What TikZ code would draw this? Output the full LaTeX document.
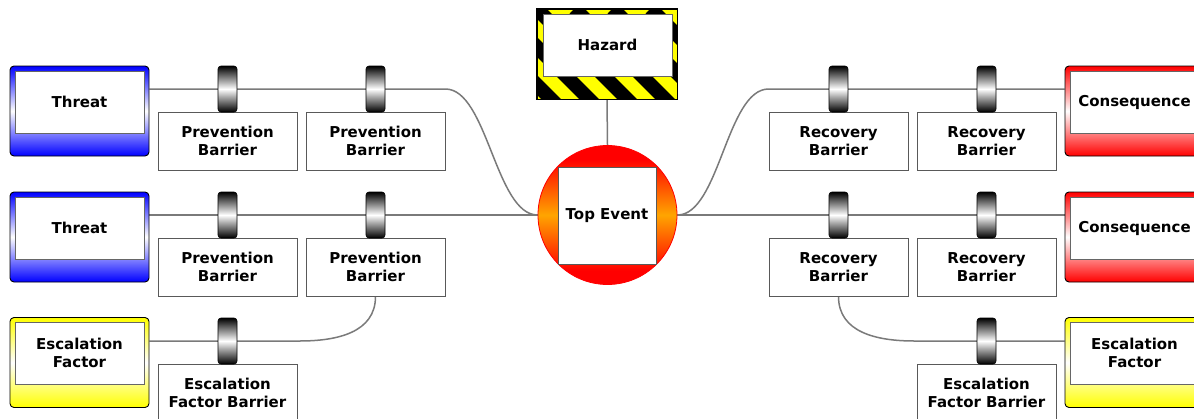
\documentclass[tikz,border=0pt]{standalone}
\usepackage{fontspec}
\setmainfont{DejaVu Sans}
\usetikzlibrary{calc}
\pgfdeclarelayer{bg}
\pgfsetlayers{bg,main}
\definecolor{thblue}{HTML}{0000FF}
\definecolor{cqred}{HTML}{FF0000}
\definecolor{escyel}{HTML}{FFFF00}
\definecolor{tevorange}{HTML}{FFA500}
\pgfdeclareverticalshading{topev}{100bp}{color(0bp)=(cqred); color(30bp)=(cqred); color(50bp)=(tevorange); color(70bp)=(cqred); color(100bp)=(cqred)}
\newcommand\boxfont{\fontsize{15}{18}\selectfont\bfseries}
\tikzset{
  conn/.style={draw=black!52, line width=1.5pt},
  outerbox/.style={draw=black, line width=0.9pt, rounded corners=4pt, minimum width=139pt, minimum height=90pt, inner sep=0pt},
  threatbox/.style={outerbox, top color=thblue, bottom color=thblue, middle color=white},
  consbox/.style={outerbox, top color=cqred, bottom color=cqred, middle color=white},
  escbox/.style={outerbox, top color=escyel, bottom color=escyel, middle color=white},
  innerbox/.style={draw=black!60, line width=0.8pt, fill=white, minimum width=129pt, minimum height=62pt, inner sep=0pt, align=center, font=\boxfont},
  barrierbox/.style={draw=black!65, line width=0.8pt, fill=white, minimum width=139pt, minimum height=58pt, inner sep=0pt, align=center, font=\boxfont},
  clipnode/.style={draw=black, line width=0.6pt, rounded corners=3pt, top color=black, bottom color=black, middle color=white, minimum width=19pt, minimum height=46pt, inner sep=0pt},
}
\begin{document}
\begin{tikzpicture}[x=1pt,y=-1pt]
\useasboundingbox (0,0) rectangle (1194,418);
\clip (0,0) rectangle (1194,418);
% left side
\node[threatbox] (T1) at (79.5,111) {};
\node[innerbox] (T1i) at (79.5,102) {Threat};
\node[threatbox] (T2) at (79.5,237) {};
\node[innerbox] (T2i) at (79.5,228) {Threat};
\node[escbox] (EL) at (79.5,362.5) {};
\node[innerbox] (ELi) at (79.5,353) {Escalation\\Factor};
\node[barrierbox] (P11) at (227.5,141) {Prevention\\Barrier};
\node[barrierbox] (P12) at (375.5,141) {Prevention\\Barrier};
\node[barrierbox] (P21) at (227.5,267) {Prevention\\Barrier};
\node[barrierbox] (P22) at (375.5,267) {Prevention\\Barrier};
\node[barrierbox] (EFBL) at (227.5,393) {Escalation\\Factor Barrier};
\node[clipnode] (C11) at (227.5,89) {};
\node[clipnode] (C12) at (375.5,89) {};
\node[clipnode] (C21) at (227.5,215) {};
\node[clipnode] (C22) at (375.5,215) {};
\node[clipnode] (C31) at (227.5,341) {};
% right side
\node[consbox] (CQ1) at (1134.5,111) {};
\node[innerbox] (CQ1i) at (1134.5,102) {Consequence};
\node[consbox] (CQ2) at (1134.5,237) {};
\node[innerbox] (CQ2i) at (1134.5,228) {Consequence};
\node[escbox] (ER) at (1134.5,362.5) {};
\node[innerbox] (ERi) at (1134.5,353) {Escalation\\Factor};
\node[barrierbox] (R11) at (838.5,141) {Recovery\\Barrier};
\node[barrierbox] (R12) at (986.5,141) {Recovery\\Barrier};
\node[barrierbox] (R21) at (838.5,267) {Recovery\\Barrier};
\node[barrierbox] (R22) at (986.5,267) {Recovery\\Barrier};
\node[barrierbox] (EFBR) at (986.5,393) {Escalation\\Factor Barrier};
\node[clipnode] (RC11) at (838.5,89) {};
\node[clipnode] (RC12) at (986.5,89) {};
\node[clipnode] (RC21) at (838.5,215) {};
\node[clipnode] (RC22) at (986.5,215) {};
\node[clipnode] (RC31) at (986.5,341) {};
% hazard
\node[draw=black, line width=0.9pt, fill=escyel, minimum width=140pt, minimum height=90pt, inner sep=0pt] (Hz) at (607,54) {};
\begin{scope}
  \clip (Hz.south west) rectangle (Hz.north east);
  \foreach \i in {-5,...,6}
    \draw[line width=14pt, black] ($(Hz.north west)+(\i*38,0)$) -- ++(110,110);
\end{scope}
\draw[black, line width=0.9pt] (Hz.south west) rectangle (Hz.north east);
\node[innerbox] (Hzi) at (607.5,45) {Hazard};
% top event
\node[circle, draw=cqred, line width=0.8pt, shade, shading=topev, minimum size=139pt, inner sep=0pt] (TE) at (607.5,215) {};
\node[draw=black!65, line width=0.8pt, fill=white, minimum width=98pt, minimum height=97pt, inner sep=0pt, font=\boxfont] (TEi) at (607,215.5) {Top Event};
% connectors
\begin{pgfonlayer}{bg}
  \fill[white] (0,0) rectangle (1194,418);
  \draw[conn] (T1.east |- C11) -- (P12.east |- C12) .. controls +(42,0) and +(-42,0) .. (TE.west);
  \draw[conn] (T2.east |- C21) -- (TE.west);
  \draw[conn] (P22.south) .. controls +(0,36) and +(38,0) .. ($(P22.south |- C31)+(-76,0)$) -- (EL.east |- C31);
  \draw[conn] (TE.east) .. controls +(42,0) and +(-42,0) .. (R11.west |- RC11) -- (CQ1.west |- RC11);
  \draw[conn] (TE.east) -- (CQ2.west |- RC21);
  \draw[conn] (R21.south) .. controls +(0,36) and +(-38,0) .. ($(R21.south |- RC31)+(76,0)$) -- (ER.west |- RC31);
  \draw[conn] (Hz.south) -- (TE.north);
\end{pgfonlayer}
\end{tikzpicture}
\end{document}
